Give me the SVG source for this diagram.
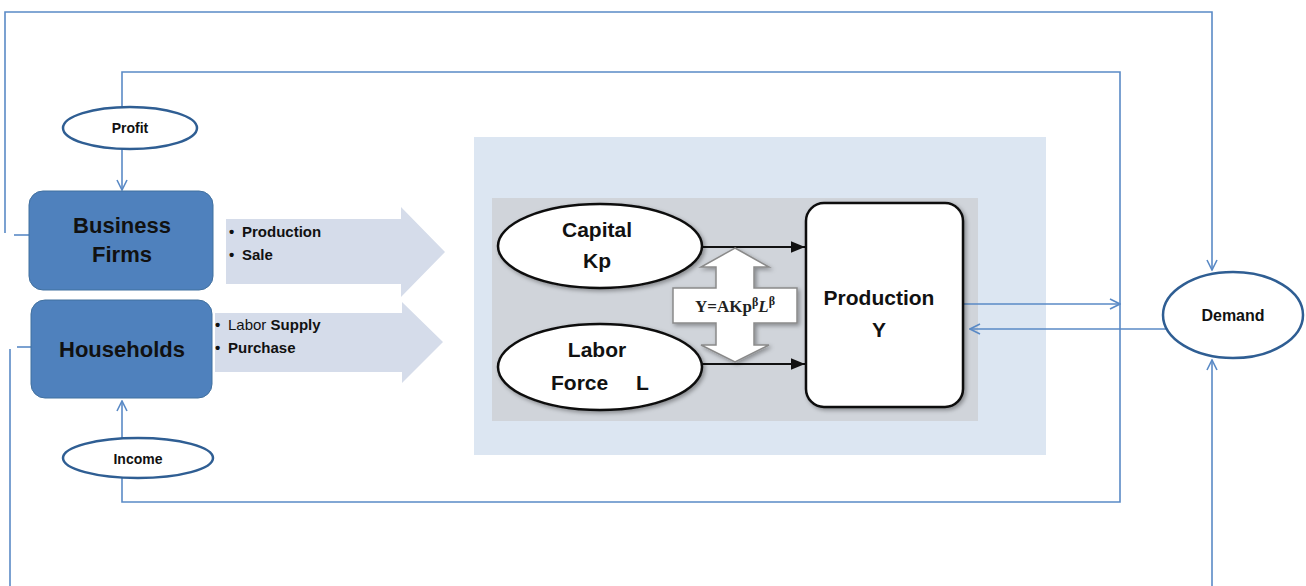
<svg xmlns="http://www.w3.org/2000/svg" width="1306" height="586" viewBox="0 0 1306 586">
<defs>
<style>
.conn{fill:none;stroke:#5a8ac6;stroke-width:1.6}
.oval{fill:#fff;stroke:#2f5e93;stroke-width:2.5}
.blk{fill:#fff;stroke:#111;stroke-width:2.5}
.lbl{font-family:"Liberation Sans",Arial,sans-serif;font-weight:bold;fill:#111}
.box{fill:#4f81bd;stroke:#41709f;stroke-width:1}
.big{fill:#d5dcea}
</style>
<marker id="open" viewBox="0 0 12 12" refX="11" refY="6" markerWidth="12" markerHeight="12" markerUnits="userSpaceOnUse" orient="auto">
<path d="M1,1 L11,6 L1,11" fill="none" stroke="#5a8ac6" stroke-width="1.6"/>
</marker>
<marker id="solid" viewBox="0 0 12 10" refX="12" refY="5" markerWidth="14" markerHeight="12" markerUnits="userSpaceOnUse" orient="auto">
<path d="M0,0 L12,5 L0,10 Z" fill="#111"/>
</marker>
<filter id="sh" x="-10%" y="-10%" width="130%" height="130%">
<feDropShadow dx="2" dy="2" stdDeviation="2" flood-color="#000" flood-opacity="0.35"/>
</filter>
</defs>
<rect width="1306" height="586" fill="#fff"/>

<g id="panel">
<rect x="474" y="137" width="572" height="318" fill="#dce6f2"/>
<rect x="492" y="198" width="486" height="223" fill="#d0d4da"/>
</g>

<g id="connectors">
<polyline class="conn" points="5,233 5,12 1212,12 1212,270" marker-end="url(#open)"/>
<polyline class="conn" points="1212,586 1212,360" marker-end="url(#open)"/>
<line class="conn" x1="10" y1="349" x2="10" y2="586"/>
<line class="conn" x1="14" y1="235" x2="30" y2="235"/>
<line class="conn" x1="17" y1="347" x2="31" y2="347"/>
<polyline class="conn" points="122,107 122,72 1120,72 1120,502 122,502 122,478"/>
<line class="conn" x1="122" y1="149" x2="122" y2="190" marker-end="url(#open)"/>
<line class="conn" x1="122" y1="438" x2="122" y2="401" marker-end="url(#open)"/>
<line class="conn" x1="963" y1="304" x2="1120" y2="304" marker-end="url(#open)"/>
<line class="conn" x1="1176" y1="329" x2="970" y2="329" marker-end="url(#open)"/>
<line x1="702" y1="247" x2="805" y2="247" stroke="#111" stroke-width="2" marker-end="url(#solid)"/>
<line x1="702" y1="364" x2="805" y2="364" stroke="#111" stroke-width="2" marker-end="url(#solid)"/>
</g>

<g id="arrow-firms">
<polygon class="big" points="226,219 401,219 401,207 445,252 401,297 401,284 226,284"/>
<text class="lbl" font-size="15" x="229" y="237">•<tspan x="242">Production</tspan></text>
<text class="lbl" font-size="15" x="229" y="260">•<tspan x="242">Sale</tspan></text>
</g>

<g id="arrow-households">
<polygon class="big" points="215,313 402,313 402,302 443,342 402,383 402,372 215,372"/>
<text class="lbl" font-size="15" x="215" y="330">•<tspan x="228" font-weight="normal">Labor </tspan><tspan>Supply</tspan></text>
<text class="lbl" font-size="15" x="215" y="353">•<tspan x="228">Purchase</tspan></text>
</g>

<g id="profit">
<ellipse class="oval" cx="130" cy="128" rx="67" ry="21"/>
<text class="lbl" font-size="14" x="130" y="133" text-anchor="middle">Profit</text>
</g>

<g id="business-firms">
<rect class="box" x="29" y="191" width="184" height="99" rx="14"/>
<text class="lbl" font-size="22" x="122" y="233" text-anchor="middle">Business</text>
<text class="lbl" font-size="22" x="122" y="262" text-anchor="middle">Firms</text>
</g>

<g id="households">
<rect class="box" x="31" y="300" width="181" height="98" rx="14"/>
<text class="lbl" font-size="22" x="122" y="357" text-anchor="middle">Households</text>
</g>

<g id="income">
<ellipse class="oval" cx="138" cy="458" rx="75" ry="20"/>
<text class="lbl" font-size="14" x="138" y="464" text-anchor="middle">Income</text>
</g>

<g id="capital">
<ellipse class="blk" cx="600" cy="246" rx="102" ry="42" filter="url(#sh)"/>
<text class="lbl" font-size="21" x="597" y="237" text-anchor="middle">Capital</text>
<text class="lbl" font-size="21" x="597" y="268" text-anchor="middle">Kp</text>
</g>

<g id="labor">
<ellipse class="blk" cx="600" cy="367" rx="102" ry="43" filter="url(#sh)"/>
<text class="lbl" font-size="21" x="597" y="357" text-anchor="middle">Labor</text>
<text class="lbl" font-size="21" x="551" y="390">Force</text>
<text class="lbl" font-size="21" x="636" y="390">L</text>
</g>

<g id="formula">
<polygon points="735,248 769,267 754,267 754,288 797,288 797,323 754,323 754,345 769,345 735,362 701,345 716,345 716,323 673,323 673,288 716,288 716,267 701,267" fill="#fff" stroke="#8a8a8a" stroke-width="1.5" filter="url(#sh)"/>
<text font-family="'Liberation Serif','Times New Roman',serif" font-weight="bold" font-size="17" fill="#222" x="735" y="312" text-anchor="middle">Y=AKp<tspan font-size="12" dy="-6">β</tspan><tspan font-style="italic" font-size="17" dy="6">L</tspan><tspan font-size="12" dy="-7">β</tspan></text>
</g>

<g id="production">
<rect class="blk" x="806" y="203" width="157" height="204" rx="18" filter="url(#sh)"/>
<text class="lbl" font-size="21" x="879" y="305" text-anchor="middle">Production</text>
<text class="lbl" font-size="21" x="879" y="337" text-anchor="middle">Y</text>
</g>

<g id="demand">
<ellipse class="oval" cx="1233" cy="315" rx="70" ry="43"/>
<text class="lbl" font-size="16" x="1233" y="321" text-anchor="middle">Demand</text>
</g>
</svg>
